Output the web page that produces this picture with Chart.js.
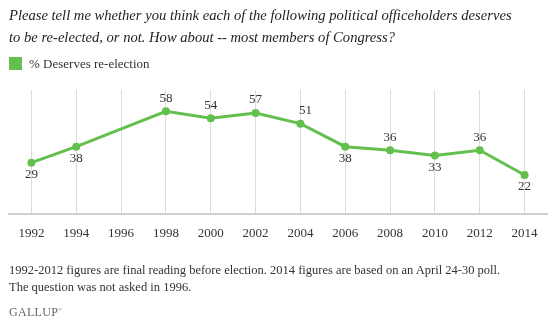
<!DOCTYPE html>
<html>
<head>
<meta charset="utf-8">
<script src="https://cdn.jsdelivr.net/npm/chart.js@4/dist/chart.umd.min.js"></script>
<style>
    body { margin: 0; background: #fff; }
    .wrap { position: relative; width: 554px; height: 324px; overflow: hidden; font-family: "Liberation Serif", serif; color: #333; }
    .title { position: absolute; left: 9px; top: 4px; white-space: nowrap; font-size: 14.6px; font-style: italic; line-height: 22px; color: #222; }
    .legend { position: absolute; left: 9px; top: 57px; font-size: 13px; line-height: 13px; }
    .legend .box { display: inline-block; width: 13px; height: 13px; background: #64c04e; vertical-align: top; margin-right: 7px; }
    .note { position: absolute; left: 9px; top: 262px; white-space: nowrap; font-size: 12.5px; line-height: 17px; color: #333; }
    .brand { position: absolute; left: 9px; top: 305px; font-size: 12px; color: #666; letter-spacing: 0.3px; }
    canvas { position: absolute; left: 0; top: 0; }
</style>
</head>
<body>
<div class="wrap">
    <canvas id="chart" width="554" height="324"></canvas>
    <div class="title">Please tell me whether you think each of the following political officeholders deserves<br>to be re-elected, or not. How about -- most members of Congress?</div>
    <div class="legend"><span class="box"></span><span>% Deserves re-election</span></div>
    <div class="note">1992-2012 figures are final reading before election. 2014 figures are based on an April 24-30 poll.<br>The question was not asked in 1996.</div>
    <div class="brand">GALLUP<sup style="font-size:5px">&reg;</sup></div>
</div>
<script>
const years = ['1992', '1994', '1996', '1998', '2000', '2002', '2004', '2006', '2008', '2010', '2012', '2014'];
const deservesReelection = [29, 38, null, 58, 54, 57, 51, 38, 36, 33, 36, 22];

// where each value label sits relative to its point
const labelSide = ['below', 'below', null, 'above', 'above', 'above', 'above', 'below', 'above', 'below', 'above', 'below'];

const green = '#64c04e';

const valueLabels = {
    id: 'valueLabels',
    afterDatasetsDraw(chart) {
        const ctx = chart.ctx;
        const meta = chart.getDatasetMeta(0);
        ctx.save();
        ctx.font = '13px "Liberation Serif", serif';
        ctx.fillStyle = '#333';
        ctx.textAlign = 'center';
        ctx.textBaseline = 'middle';
        meta.data.forEach((pt, i) => {
            const v = deservesReelection[i];
            if (v === null) return;
            const side = labelSide[i];
            let x = pt.x;
            let y = side === 'above' ? pt.y - 13 : pt.y + 12;
            if (i === 6) x += 5;
            ctx.fillText(String(v), x, y);
        });
        ctx.restore();
    }
};

new Chart(document.getElementById('chart'), {
    type: 'line',
    data: {
        labels: years,
        datasets: [{
            label: '% Deserves re-election',
            data: deservesReelection,
            borderColor: green,
            backgroundColor: green,
            borderWidth: 3,
            pointRadius: 2.5,
            pointHoverRadius: 2.5,
            tension: 0,
            spanGaps: true
        }]
    },
    options: {
        responsive: false,
        animation: false,
        events: [],
        layout: { padding: { left: 9, right: 7, top: 90, bottom: 86 } },
        plugins: {
            legend: { display: false },
            tooltip: { enabled: false }
        },
        scales: {
            x: {
                offset: true,
                grid: { color: '#dcdcdc', lineWidth: 1, drawTicks: false, offset: false },
                border: { color: '#d0d0d0', width: 2 },
                ticks: {
                    color: '#333',
                    font: { family: '"Liberation Serif", serif', size: 13 },
                    padding: 12,
                    maxRotation: 0,
                    autoSkip: false
                },
                afterFit(scale) { scale.height = 24; }
            },
            y: {
                display: false,
                min: 0,
                max: 70
            }
        }
    },
    plugins: [valueLabels]
});
</script>
</body>
</html>
